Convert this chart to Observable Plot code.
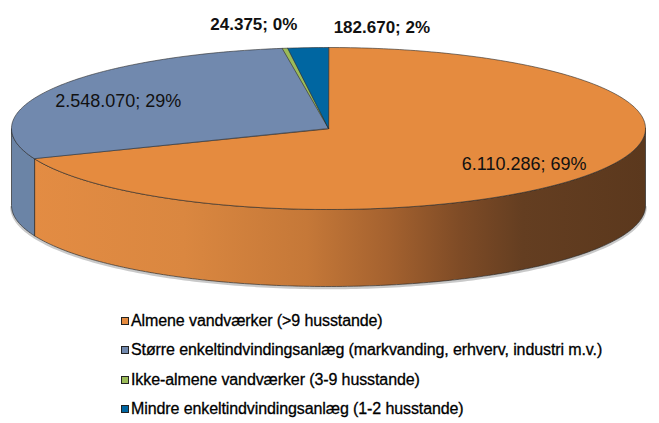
<!DOCTYPE html>
<html><head><meta charset="utf-8">
<script src="https://cdn.jsdelivr.net/npm/d3@7"></script>
<script src="https://cdn.jsdelivr.net/npm/@observablehq/plot@0.6"></script>
<style>
body{margin:0;background:#fff;font-family:"Liberation Sans",Arial,sans-serif;}
#legend{padding-left:121px;}
.row{display:flex;align-items:center;height:29.5px;font-size:16px;color:#000;white-space:nowrap;-webkit-text-stroke:0.3px #000;letter-spacing:-0.1px;}
.sw{width:6px;height:6px;border:1px solid #222;margin-right:2px;flex:none;-webkit-text-stroke:0;}
</style></head><body><div id="chart"></div><div id="legend"></div>
<script>
// ---- data ----
const categories = [
  "Almene vandværker (>9 husstande)",
  "Større enkeltindvindingsanlæg (markvanding, erhverv, industri m.v.)",
  "Ikke-almene vandværker (3-9 husstande)",
  "Mindre enkeltindvindingsanlæg (1-2 husstande)"
];
const values = [6110286, 2548070, 24375, 182670];

// ---- style ----
const topColors = ["#E58B3F", "#7189AE", "#9BBB59", "#0066A1"];
const sideColors = ["url(#orangeSide)", "#6B84A6", "#8AA84E", "#00558A"];
const W = 659, H = 306, CX = 328, CY = 128, RX = 317, RY = 81, DEPTH = 77;
const labelRadius = [0.745, 0.765, 1.3, 1.3];
const labelDx = [0, 0, -18, 80];
const labelDy = [2, 4, 0, 4];

const loc = d3.formatLocale({decimal: ",", thousands: ".", grouping: [3], currency: ["", ""]});
const fmt = loc.format(",d");
const total = d3.sum(values);

const arcs = d3.pie().sort(null).value(d => d)(values);
const pt = (a, dy = 0) => ({x: CX + RX * Math.sin(a), y: CY - RY * Math.cos(a) + dy});
function arcPts(a0, a1, dy) {
  const n = Math.max(2, Math.ceil((a1 - a0) / (Math.PI / 180)));
  return d3.range(n + 1).map(i => pt(a0 + (a1 - a0) * i / n, dy));
}

const marks = [];
// soft shadow under the front edge
marks.push(Plot.line(arcPts(Math.PI / 2, 3 * Math.PI / 2, DEPTH + 1.5),
  {x: "x", y: "y", stroke: "#777", strokeWidth: 2.5, strokeOpacity: 0.4}));
// walls
arcs.forEach((a, i) => {
  const lo = Math.max(a.startAngle, Math.PI / 2), hi = Math.min(a.endAngle, 3 * Math.PI / 2);
  if (lo < hi) {
    const pts = arcPts(lo, hi, 0).concat(arcPts(lo, hi, DEPTH).reverse());
    marks.push(Plot.line(pts, {x: "x", y: "y", fill: sideColors[i], stroke: "#2a2a2a", strokeWidth: 0.7, curve: "linear-closed"}));
  }
});
// tops
arcs.forEach((a, i) => {
  const pts = [{x: CX, y: CY}].concat(arcPts(a.startAngle, a.endAngle, 0));
  marks.push(Plot.line(pts, {x: "x", y: "y", fill: topColors[i], stroke: "#2a2a2a", strokeWidth: 0.6, curve: "linear-closed"}));
});
// labels
const lab = arcs.map((a, i) => {
  const m = (a.startAngle + a.endAngle) / 2;
  const r = labelRadius[i];
  return {
    x: CX + RX * r * Math.sin(m) + labelDx[i],
    y: CY - RY * r * Math.cos(m) + labelDy[i],
    text: fmt(values[i]) + "; " + Math.round(values[i] / total * 100) + "%",
    outside: r > 1
  };
});
marks.push(Plot.text(lab.filter(d => !d.outside), {x: "x", y: "y", text: "text", fontSize: 18, fill: "#111"}));
marks.push(Plot.text(lab.filter(d => d.outside), {x: "x", y: "y", text: "text", fontSize: 17, fontWeight: "bold", fill: "#111"}));

const svg = Plot.plot({
  width: W, height: H, margin: 0,
  x: {domain: [0, W], range: [0, W], axis: null},
  y: {domain: [0, H], range: [0, H], axis: null},
  style: {fontFamily: "'Liberation Sans', Arial, sans-serif", background: "#fff"},
  marks
});
const ns = "http://www.w3.org/2000/svg";
const defs = document.createElementNS(ns, "defs");
const g = document.createElementNS(ns, "linearGradient");
g.setAttribute("id", "orangeSide");
g.setAttribute("gradientUnits", "userSpaceOnUse");
g.setAttribute("x1", 30); g.setAttribute("x2", 645); g.setAttribute("y1", 0); g.setAttribute("y2", 0);
[[0, "#E38C43"], [0.25, "#DA8740"], [0.45, "#C57838"], [0.58, "#A5622F"], [0.7, "#7E4B26"], [0.8, "#643E21"], [1, "#5B381D"]]
  .forEach(([o, c]) => { const s = document.createElementNS(ns, "stop"); s.setAttribute("offset", o); s.setAttribute("stop-color", c); g.appendChild(s); });
defs.appendChild(g);
svg.insertBefore(defs, svg.firstChild);
document.getElementById("chart").appendChild(svg);

const legend = document.getElementById("legend");
categories.forEach((c, i) => {
  const row = document.createElement("div"); row.className = "row";
  const sw = document.createElement("span"); sw.className = "sw"; sw.style.background = topColors[i];
  const t = document.createElement("span"); t.textContent = c;
  row.appendChild(sw); row.appendChild(t); legend.appendChild(row);
});
</script></body></html>
